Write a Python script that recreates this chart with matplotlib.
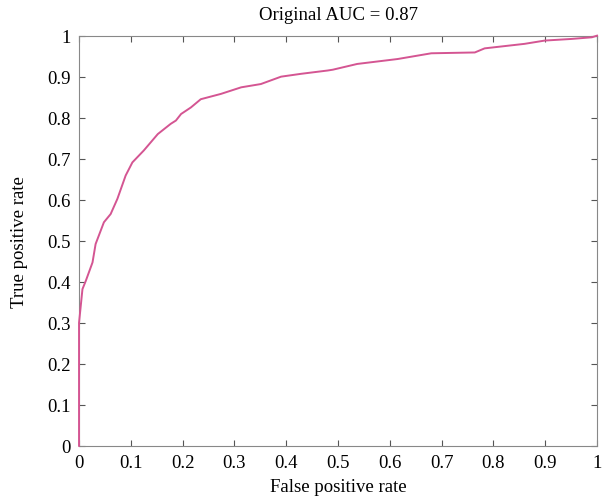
import matplotlib
matplotlib.use('Agg')
import matplotlib.pyplot as plt

# ROC curve points
fpr = [0.0, 0.0, 0.0066, 0.013, 0.026, 0.032, 0.048, 0.061, 0.074, 0.09, 0.103,
       0.125, 0.152, 0.177, 0.187, 0.197, 0.216, 0.235, 0.274, 0.313, 0.351,
       0.39, 0.429, 0.48, 0.49, 0.537, 0.615, 0.68, 0.764, 0.783, 0.86,
       0.899, 0.951, 0.99, 1.0]
tpr = [0.0, 0.30, 0.382, 0.402, 0.447, 0.492, 0.545, 0.565, 0.602, 0.659, 0.691,
       0.72, 0.76, 0.785, 0.793, 0.809, 0.825, 0.845, 0.858, 0.874, 0.882,
       0.90, 0.907, 0.915, 0.917, 0.931, 0.943, 0.957, 0.959, 0.969, 0.98,
       0.988, 0.992, 0.996, 1.0]
xticks = [0, 0.1, 0.2, 0.3, 0.4, 0.5, 0.6, 0.7, 0.8, 0.9, 1]
xtick_labels = ['0', '0.1', '0.2', '0.3', '0.4', '0.5', '0.6', '0.7', '0.8', '0.9', '1']

plt.rcParams['font.family'] = ['Liberation Serif', 'DejaVu Serif']
plt.rcParams['font.size'] = 13.5

fig = plt.figure(figsize=(6.08, 5.02), dpi=100)
ax = fig.add_axes([0.130, 0.110, 0.852, 0.817])
ax.plot(fpr, tpr, color='#d45592', lw=1.4, zorder=3, clip_on=False)
ax.set_xlim(0, 1)
ax.set_ylim(0, 1)
ax.set_xticks(xticks)
ax.set_xticklabels(xtick_labels)
ax.set_yticks(xticks)
ax.set_yticklabels(xtick_labels)
ax.tick_params(direction='in', top=True, right=True, length=4, color='#555555', pad=6)
for s in ax.spines.values():
    s.set_color('#888888')
ax.set_xlabel('False positive rate', labelpad=5)
ax.set_ylabel('True positive rate', labelpad=14)
ax.set_title('Original AUC = 0.87', fontsize=13.5, pad=12)

fig.savefig('out.png', dpi=100)
